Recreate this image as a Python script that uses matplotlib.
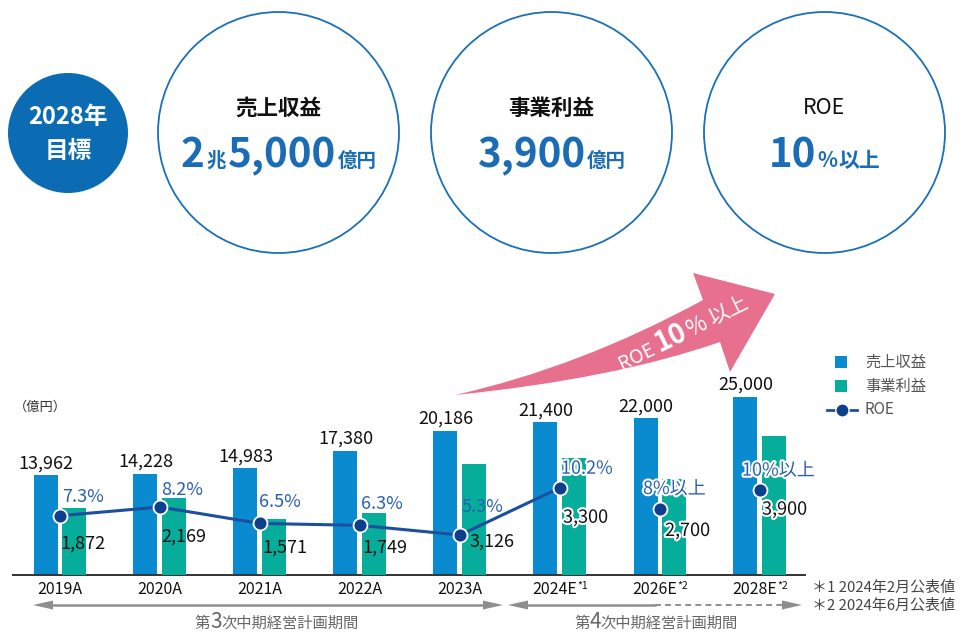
import matplotlib
matplotlib.use('Agg')
import matplotlib.pyplot as plt
import numpy as np
from matplotlib.patches import Circle, Rectangle, Polygon, PathPatch
from matplotlib.path import Path
from matplotlib.lines import Line2D
from matplotlib.transforms import Affine2D
import matplotlib.patheffects as pe

JP = ['Noto Sans CJK JP', 'DejaVu Sans']
plt.rcParams['font.family'] = JP

# ---------------- data ----------------
categories = ['2019A', '2020A', '2021A', '2022A', '2023A', '2024E', '2026E', '2028E']
cat_notes = ['', '', '', '', '', '*1', '*2', '*2']
revenue = [13962, 14228, 14983, 17380, 20186, 21400, 22000, 25000]
profit = [1872, 2169, 1571, 1749, 3126, 3300, 2700, 3900]
roe = [7.3, 8.2, 6.5, 6.3, 5.3, 10.2, 8.0, 10.0]
roe_labels = ['7.3%', '8.2%', '6.5%', '6.3%', '5.3%', '10.2%', '8%以上', '10%以上']
is_forecast = [False, False, False, False, False, True, True, True]
roe_connected = 6  # 2019A..2024E joined by the line

legend_labels = ['売上収益', '事業利益', 'ROE']
unit_label = '（億円）'
target_badge = ['2028年', '目標']
target_titles = ['売上収益', '事業利益', 'ROE']
footnotes = ['＊1 2024年2月公表値', '＊2 2024年6月公表値']
period_names = [('第', '3', '次中期経営計画期間'), ('第', '4', '次中期経営計画期間')]
arrow_text = ('ROE', '10', '%', '以上')

# ---------------- style ----------------
W, H = 962, 632
BLUE = '#0a8bcf'
GREEN = '#05ad9a'
NAVY = '#0d3f8c'
LINE = '#1c4f9e'
LBLUE = '#2b5fb0'
TBLUE = '#1a6db5'
PINK = '#e8708f'
GRAY = '#8e8e8e'

fig = plt.figure(figsize=(W / 100, H / 100), dpi=100)
T = Affine2D().scale(1 / W, -1 / H).translate(0, 1) + fig.transFigure  # top-left pixel coords


def runs(x, y, parts, align='center', rot=0):
    r = fig.canvas.get_renderer()
    objs = []
    total = 0
    for s, size, weight, color, gap, dy in parts:
        t = fig.text(0, 0, s, fontsize=size, fontweight=weight, color=color,
                     ha='left', va='baseline', transform=T)
        w = t.get_window_extent(r).width
        objs.append((t, w, gap, dy))
        total += w + gap
    total -= objs[-1][2]
    th = np.deg2rad(rot)
    c, s_ = np.cos(th), np.sin(th)
    if align == 'center':
        sx, sy = x - total / 2 * c, y + total / 2 * s_
    else:
        sx, sy = x, y
    d = 0
    for t, w, gap, dy in objs:
        px = sx + d * c - dy * s_
        py = sy - d * s_ - dy * c
        t.set_position((px, py))
        t.set_rotation(rot)
        t.set_rotation_mode('anchor')
        d += w + gap
    return objs


# ---------------- top target circles ----------------
fig.add_artist(Circle((68, 133), 60, transform=T, facecolor='#0b6cb4', edgecolor='none'))
fig.text(68, 117, target_badge[0], transform=T, ha='center', va='center',
         fontsize=17, fontweight='bold', color='white')
fig.text(68, 151, target_badge[1], transform=T, ha='center', va='center',
         fontsize=17, fontweight='bold', color='white')

centers = [278.5, 551.5, 824.5]
for cx in centers:
    fig.add_artist(Circle((cx, 132.5), 120.5, transform=T, facecolor='none',
                          edgecolor='#1a70b8', linewidth=1.3))
for cx, title in zip(centers, target_titles):
    fig.text(cx, 108, title, transform=T, ha='center', va='center', fontsize=15.5,
             fontweight='bold' if title != 'ROE' else 'normal', color='#111111')

runs(centers[0], 167, [('2', 29, 'bold', TBLUE, 2, 0), ('兆', 14, 'bold', TBLUE, 2, 0),
                       ('5,000', 29, 'bold', TBLUE, 2, 0), ('億円', 14, 'bold', TBLUE, 0, 0)])
runs(centers[1], 167, [('3,900', 29, 'bold', TBLUE, 2, 0), ('億円', 14, 'bold', TBLUE, 0, 0)])
runs(centers[2], 167, [('10', 29, 'bold', TBLUE, 1, 0), ('%', 15, 'bold', TBLUE, 1, 0),
                       ('以上', 15, 'bold', TBLUE, 0, 0)])

# ---------------- pink arrow ----------------
verts = [(455, 395), (614, 379), (720, 342), (730, 372), (775, 294), (693, 273),
         (703, 300), (580, 367), (455, 395)]
codes = [Path.MOVETO, Path.CURVE3, Path.CURVE3, Path.LINETO, Path.LINETO, Path.LINETO,
         Path.LINETO, Path.CURVE3, Path.CURVE3]
fig.add_artist(PathPatch(Path(verts, codes), transform=T, facecolor=PINK, edgecolor='none'))
runs(686, 339, [(arrow_text[0], 14, 'normal', 'white', 4, 0),
                (arrow_text[1], 20, 'bold', 'white', 1, 0),
                (arrow_text[2], 16, 'normal', 'white', 5, 0),
                (arrow_text[3], 15, 'normal', 'white', 0, 0)], rot=26)

# ---------------- chart axes ----------------
ax = fig.add_axes([13 / W, 1 - 575 / H, 792 / W, 185 / H])
ax2 = ax.twinx()
ax3 = ax.twinx()
x = np.arange(len(categories))
bw = 0.24
ax.bar(x - 0.145, revenue, bw, color=BLUE, zorder=2)
ax2.bar(x + 0.145, profit, bw, color=GREEN, zorder=2)
ax.set_xlim(-0.47, 7.45)
ax.set_ylim(0, 25955)
ax2.set_ylim(0, 5200)
ax3.set_ylim(1.155, 20.33)

for a in (ax, ax2, ax3):
    a.patch.set_visible(False)
    for sp in a.spines.values():
        sp.set_visible(False)
    a.set_yticks([])
    a.tick_params(bottom=False, labelbottom=False)
ax.spines['bottom'].set_visible(True)
ax.spines['bottom'].set_color('#333333')
ax.spines['bottom'].set_linewidth(1.4)
ax.set_xticks([])

for i, v in enumerate(revenue):
    ax.annotate(f'{v:,}', (x[i] - 0.145, v), xytext=(0, 3), textcoords='offset pixels',
                ha='center', va='bottom', fontsize=13, color='#111111')

ax3.plot(x[:roe_connected], roe[:roe_connected], color=LINE, lw=2.2, zorder=3)
ax3.plot(x, roe, 'o', ms=10, mfc=NAVY, mec='white', mew=1.3, zorder=4, ls='none')

roe_off = [(2, 19), (1, 17), (-1, 21), (1, 21), (2, 28), (1, 19), (-17, 20), (-18, 19)]
prof_off = [(0, -28), (1, -30), (2, -24), (2, -22), (10, -7), (3, -30), (5, -22), (2, -20)]
halo = [pe.withStroke(linewidth=3, foreground='white')]
for i in range(len(categories)):
    ax3.annotate(roe_labels[i], (x[i], roe[i]), xytext=roe_off[i], textcoords='offset pixels',
                 ha='left', va='center', fontsize=13, color=LBLUE, zorder=5,
                 path_effects=halo if is_forecast[i] else None)
    ax3.annotate(f'{profit[i]:,}', (x[i], roe[i]), xytext=prof_off[i], textcoords='offset pixels',
                 ha='left', va='center', fontsize=13, color='#111111', zorder=5,
                 path_effects=halo if is_forecast[i] else None)

# category labels
for i, (c, n) in enumerate(zip(categories, cat_notes)):
    cxp = 60 + 100 * i
    parts = [(c, 11.5, 'normal', '#111111', 0, 0)]
    if n:
        parts = [(c, 11.5, 'normal', '#111111', 0.5, 0), (n, 7.5, 'normal', '#111111', 0, 5)]
    runs(cxp, 594, parts)

# unit label
fig.text(14, 407, unit_label, transform=T, ha='left', va='center', fontsize=9.5, color='#333333')

# ---------------- legend ----------------
fig.add_artist(Rectangle((835.5, 356), 12, 12, transform=T, facecolor=BLUE, edgecolor='none'))
fig.add_artist(Rectangle((835.5, 379.5), 12, 12, transform=T, facecolor=GREEN, edgecolor='none'))
fig.add_artist(Line2D([827, 834], [410, 410], transform=T, color=LINE, lw=2))
fig.add_artist(Line2D([850, 857], [410, 410], transform=T, color=LINE, lw=2))
fig.add_artist(Line2D([842], [410], transform=T, marker='o', ms=9.5, mfc=NAVY, mec='white', mew=1))
for yy, lab in zip([362, 386, 410], legend_labels):
    fig.text(865, yy, lab, transform=T, ha='left', va='center', fontsize=11, color='#555555')

# ---------------- period arrows ----------------
def head(tip, base, y, hh=4.5):
    fig.add_artist(Polygon([(tip, y), (base, y - hh), (base, y + hh)], closed=True,
                           transform=T, facecolor=GRAY, edgecolor='none'))

ya = 605
fig.add_artist(Line2D([50, 486], [ya, ya], transform=T, color=GRAY, lw=1.8))
head(33, 53, ya)
head(503, 483, ya)
fig.add_artist(Line2D([525, 655], [ya, ya], transform=T, color=GRAY, lw=1.8))
fig.add_artist(Line2D([655, 782], [ya, ya], transform=T, color=GRAY, lw=1.4, ls=(0, (3, 2.2))))
head(508, 528, ya)
head(802, 782, ya)

for cxp, (a1, a2, a3) in zip([277, 656], period_names):
    runs(cxp, 628, [(a1, 11, 'normal', '#666666', 0, 0), (a2, 15, 'normal', '#666666', 0, 0),
                    (a3, 11, 'normal', '#666666', 0, 0)])

for yy, t in zip([588, 606], footnotes):
    fig.text(812, yy, t, transform=T, ha='left', va='center', fontsize=10.8, color='#444444')

fig.savefig('out.png', dpi=100)
